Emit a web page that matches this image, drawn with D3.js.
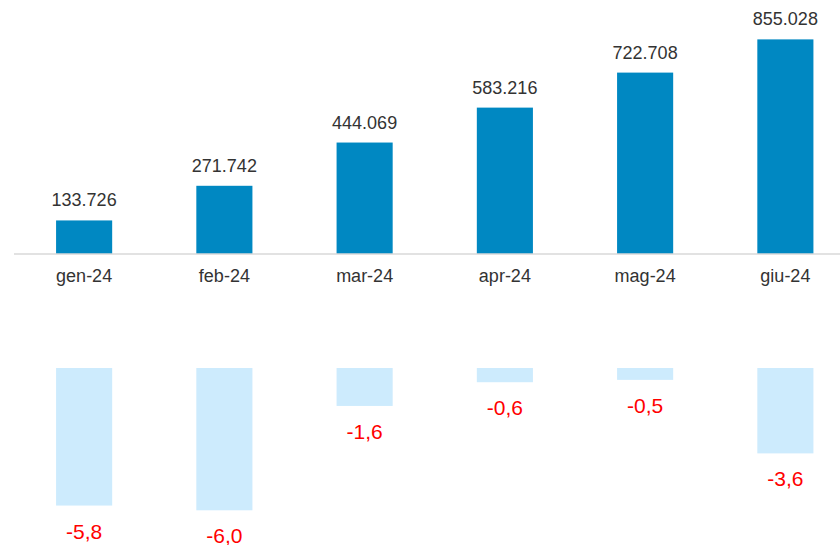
<!DOCTYPE html>
<html>
<head>
<meta charset="utf-8">
<script src="https://cdn.jsdelivr.net/npm/d3@7"></script>
<style>
  body { margin: 0; background: #fff; }
  svg text { font-family: "Liberation Sans", Arial, sans-serif; }
</style>
</head>
<body>
<svg id="canvas" width="840" height="545"></svg>
<script>
'use strict';

const months = ['gen-24', 'feb-24', 'mar-24', 'apr-24', 'mag-24', 'giu-24'];
const totals = [133.726, 271.742, 444.069, 583.216, 722.708, 855.028];
const changes = [-5.8, -6.0, -1.6, -0.6, -0.5, -3.6];

function FormatTotal(v) {
  return d3.format(',.3f')(v).replace(',', '.');
}

function FormatChange(v) {
  // italian style: hyphen minus, comma decimal
  return d3.format('.1f')(v).replace('\u2212', '-').replace('.', ',');
}

function Main() {
  const svg = d3.select('#canvas');

  const x = d3.scaleBand()
      .domain(months)
      .range([14, 855.5])
      .paddingInner(0.6)
      .paddingOuter(0.3);

  const yTop = d3.scaleLinear().domain([0, 1000]).range([254, 3]);
  const yBottom = d3.scaleLinear().domain([0, -6]).range([368, 510.3]);

  // top panel: totals
  svg.selectAll('rect.total')
      .data(totals)
    .enter().append('rect')
      .attr('class', 'total')
      .attr('x', function(d, i) { return x(months[i]); })
      .attr('y', function(d) { return yTop(d); })
      .attr('width', x.bandwidth())
      .attr('height', function(d) { return yTop(0) - yTop(d); })
      .attr('fill', '#0088c2');

  svg.selectAll('text.total')
      .data(totals)
    .enter().append('text')
      .attr('class', 'total')
      .attr('x', function(d, i) { return x(months[i]) + x.bandwidth() / 2; })
      .attr('y', function(d) { return yTop(d) - 14; })
      .attr('text-anchor', 'middle')
      .attr('font-size', 18)
      .attr('fill', '#333')
      .text(FormatTotal);

  const axis = svg.append('g')
      .attr('transform', 'translate(0,' + yTop(0) + ')')
      .call(d3.axisBottom(x).tickSize(0).tickPadding(15));
  axis.select('.domain')
      .attr('d', 'M14,0H840')
      .attr('stroke', '#d9d9d9')
      .attr('stroke-width', 1.5);
  axis.selectAll('text')
      .attr('font-size', 18)
      .attr('font-family', '"Liberation Sans", Arial, sans-serif')
      .attr('fill', '#333');

  // bottom panel: changes
  svg.selectAll('rect.change')
      .data(changes)
    .enter().append('rect')
      .attr('class', 'change')
      .attr('x', function(d, i) { return x(months[i]); })
      .attr('y', yBottom(0))
      .attr('width', x.bandwidth())
      .attr('height', function(d) { return yBottom(d) - yBottom(0); })
      .attr('fill', '#cdebfd');

  svg.selectAll('text.change')
      .data(changes)
    .enter().append('text')
      .attr('class', 'change')
      .attr('x', function(d, i) { return x(months[i]) + x.bandwidth() / 2; })
      .attr('y', function(d) { return yBottom(d) + 33; })
      .attr('text-anchor', 'middle')
      .attr('font-size', 21)
      .attr('fill', '#ff0000')
      .text(FormatChange);
}

Main();
</script>
</body>
</html>
